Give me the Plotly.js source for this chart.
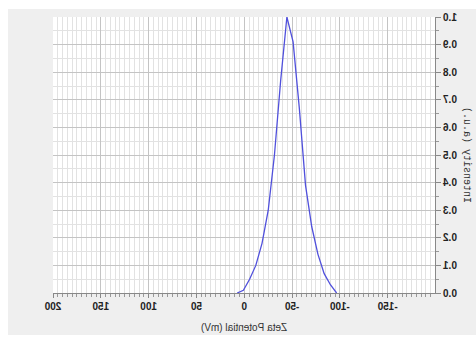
<!DOCTYPE html>
<html>
<head>
<meta charset="utf-8">
<script src="https://cdn.plot.ly/plotly-3.0.1.min.js"></script>
<style>
  html, body { margin: 0; padding: 0; background: #ffffff; width: 476px; height: 337px; overflow: hidden; }
  #chart { position: absolute; left: 8px; top: 9px; width: 468px; height: 326px; transform: scaleX(-1); }
</style>
</head>
<body>
<div id="chart"></div>
<script>
// Zeta potential distribution (mV) and normalised intensity (a.u.)
const zeta = [7.4, 0.9, -5.6, -12.1, -18.6, -25.1, -31.6, -38.1, -44.6, -51.1, -57.6, -64.1, -70.6, -77.1, -83.6, -90.1, -96.6];
const intensity = [0.0, 0.01, 0.05, 0.10, 0.18, 0.30, 0.50, 0.77, 1.0, 0.91, 0.67, 0.39, 0.24, 0.14, 0.07, 0.03, 0.0];

const xTickVals = [-150, -100, -50, 0, 50, 100, 150, 200];
const xTickText = ["-150", "-100", "-50", "0", "50", "100", "150", "200"];

const xTitle = "Zeta Potential (mV)";
const yTitle = "Intensity (a.u.)";

const trace = {
  x: zeta,
  y: intensity,
  type: "scatter",
  mode: "lines",
  line: { color: "#5050dc", width: 1.3 },
  hoverinfo: "skip"
};

const tickFont = { family: "Liberation Sans, Arial, sans-serif", size: 10, color: "#222222", weight: "bold" };

const layout = {
  width: 468,
  height: 326,
  margin: { l: 41, r: 45, t: 8, b: 42 },
  paper_bgcolor: "#efefef",
  plot_bgcolor: "#ffffff",
  showlegend: false,
  xaxis: {
    range: [-199.5, 200],
    tickmode: "array",
    tickvals: xTickVals,
    ticktext: xTickText,
    ticks: "outside",
    ticklen: 4,
    tickcolor: "#888888",
    tickfont: tickFont,
    showgrid: true,
    gridcolor: "#c4c4c4",
    gridwidth: 1,
    zeroline: false,
    showline: true,
    linecolor: "#888888",
    linewidth: 1,
    minor: { tickmode: "linear", dtick: 5, tick0: 0, ticks: "outside", ticklen: 3, tickcolor: "#999999", showgrid: true, gridcolor: "#e2e2e2", gridwidth: 1 },
    title: { text: xTitle, font: { family: "Liberation Sans, Arial, sans-serif", size: 10, color: "#333333" }, standoff: 12 },
    automargin: false,
    fixedrange: true
  },
  yaxis: {
    range: [0, 1],
    tickmode: "linear",
    tick0: 0,
    dtick: 0.1,
    tickformat: ".1f",
    ticks: "outside",
    ticklen: 5,
    tickcolor: "#888888",
    tickfont: tickFont,
    showgrid: true,
    gridcolor: "#c4c4c4",
    gridwidth: 1,
    zeroline: false,
    showline: true,
    linecolor: "#888888",
    linewidth: 1,
    minor: { dtick: 0.05, tick0: 0, ticks: "outside", ticklen: 3, tickcolor: "#999999", showgrid: true, gridcolor: "#e2e2e2", gridwidth: 1 },
    title: { text: yTitle, font: { family: "Liberation Mono, Courier New, monospace", size: 10, color: "#333333" }, standoff: 4 },
    automargin: false,
    fixedrange: true
  }
};

Plotly.newPlot("chart", [trace], layout, { displayModeBar: false, staticPlot: true });
</script>
</body>
</html>
